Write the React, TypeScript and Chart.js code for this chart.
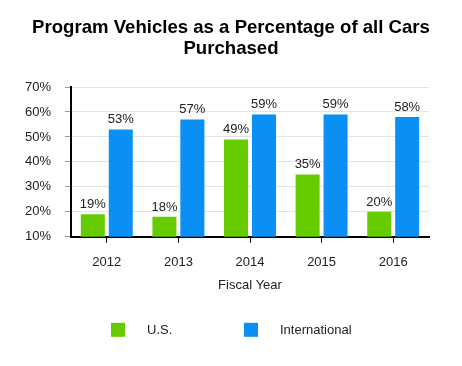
import React, { useEffect, useRef } from "react";
import { Chart, registerables } from "chart.js";

Chart.register(...registerables);

const categories = ["2012", "2013", "2014", "2015", "2016"];
const usValues = [19, 18, 49, 35, 20];
const intlValues = [53, 57, 59, 59, 58];
const seriesNames = ["U.S.", "International"];
const seriesColors = ["#66CC00", "#0A90F5"];
const yTicks = [10, 20, 30, 40, 50, 60, 70];
const titleLines = ["Program Vehicles as a Percentage of all Cars", "Purchased"];

const FONT = "'Liberation Sans', Arial, sans-serif";

const labelPlugin = {
  id: "barLabels",
  afterDatasetsDraw(chart: any) {
    const ctx = chart.ctx;
    ctx.save();
    ctx.font = `13px ${FONT}`;
    ctx.fillStyle = "#222";
    ctx.textAlign = "center";
    ctx.textBaseline = "alphabetic";
    chart.data.datasets.forEach((ds: any, i: number) => {
      const meta = chart.getDatasetMeta(i);
      meta.data.forEach((bar: any, j: number) => {
        ctx.fillText(`${ds.data[j]}%`, bar.x, bar.y - 6);
      });
    });
    ctx.restore();
  },
};

const titlePlugin = {
  id: "centeredTitle",
  afterDraw(chart: any) {
    const ctx = chart.ctx;
    ctx.save();
    ctx.font = `bold 18.6px ${FONT}`;
    ctx.fillStyle = "#000";
    ctx.textAlign = "center";
    ctx.textBaseline = "middle";
    titleLines.forEach((line, i) => {
      ctx.fillText(line, chart.width / 2, 27.5 + i * 21.5);
    });
    ctx.restore();
  },
};

const legendPlugin = {
  id: "customLegend",
  afterDraw(chart: any) {
    const ctx = chart.ctx;
    const ca = chart.chartArea;
    ctx.save();
    ctx.font = `13px ${FONT}`;
    ctx.textBaseline = "middle";
    ctx.textAlign = "left";
    const y = ca.bottom + 93;
    const starts = [ca.left + 40, ca.left + 173];
    seriesNames.forEach((name, i) => {
      const x = starts[i];
      ctx.fillStyle = seriesColors[i];
      ctx.fillRect(x, y - 7, 14, 14);
      ctx.fillStyle = "#222";
      ctx.fillText(name, x + 36, y + 1);
    });
    ctx.restore();
  },
};

export default function App() {
  const ref = useRef<HTMLCanvasElement>(null);
  useEffect(() => {
    document.body.style.margin = "0";
    const chart = new Chart(ref.current!, {
      type: "bar",
      data: {
        labels: categories,
        datasets: [
          { label: seriesNames[0], data: usValues, backgroundColor: seriesColors[0] },
          { label: seriesNames[1], data: intlValues, backgroundColor: seriesColors[1] },
        ],
      },
      options: {
        animation: false,
        responsive: false,
        devicePixelRatio: 1,
        layout: { padding: { left: 13, right: 33, top: 87, bottom: 73 } },
        datasets: { bar: { categoryPercentage: 0.78, barPercentage: 0.86 } },
        plugins: {
          legend: { display: false },
          tooltip: { enabled: false },
          title: { display: false },
        },
        scales: {
          x: {
            grid: { drawOnChartArea: false, drawTicks: true, offset: false, tickLength: 6, tickColor: "#000", tickWidth: 1 },
            border: { color: "#000", width: 2 },
            ticks: { font: { family: FONT, size: 13 }, color: "#222", padding: 12 },
            title: { display: true, text: "Fiscal Year", font: { family: FONT, size: 13 }, color: "#222", padding: { top: -5, bottom: 0 } },
          },
          y: {
            min: yTicks[0],
            max: yTicks[yTicks.length - 1],
            afterBuildTicks(axis: any) {
              axis.ticks = yTicks.map((v) => ({ value: v }));
            },
            afterFit(axis: any) {
              axis.width = 58;
            },
            grid: { color: "#e4e4e4", tickColor: "#999", tickLength: 6 },
            border: { color: "#000", width: 2 },
            ticks: {
              font: { family: FONT, size: 13 },
              color: "#222",
              padding: 14,
              callback: (v: any) => `${v}%`,
            },
          },
        },
      },
      plugins: [labelPlugin, titlePlugin, legendPlugin],
    } as any);
    return () => chart.destroy();
  }, []);
  return <canvas ref={ref} width={462} height={366} style={{ display: "block" }} />;
}
